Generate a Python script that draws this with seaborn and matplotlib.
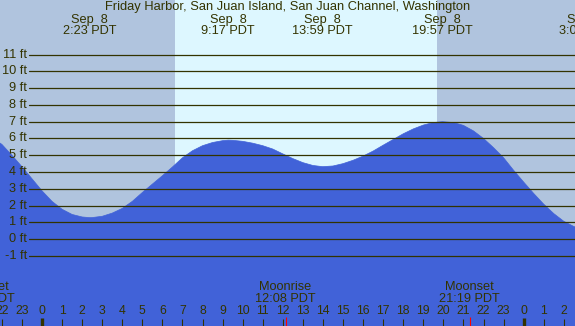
import numpy as np
import pandas as pd
import matplotlib.pyplot as plt
import seaborn as sns

sns.set_style('white')
plt.rcParams['font.family'] = ['Liberation Sans', 'DejaVu Sans']

# tide height (ft), hours after midnight Sep 8
hours = [-3, -2.5, -2, -1.5, -1, -0.5, 0, 0.5, 1, 1.5, 2, 2.38, 2.5, 3, 3.5, 4,
         4.5, 5, 5.5, 6, 6.5, 7, 7.5, 8, 8.5, 9, 9.28, 9.5, 10, 10.5, 11, 11.5,
         12, 12.5, 13, 13.5, 13.98, 14.5, 15, 15.5, 16, 16.5, 17, 17.5, 18, 18.5,
         19, 19.5, 19.95, 20.5, 21, 21.5, 22, 22.5, 23, 23.5, 24, 24.5, 25, 25.5,
         26, 26.5, 27]
heights = [6.35, 6.05, 5.65, 5.0, 4.32, 3.6, 2.88, 2.25, 1.78, 1.47, 1.32, 1.28,
           1.285, 1.36, 1.55, 1.83, 2.25, 2.78, 3.28, 3.78, 4.3, 4.85, 5.27, 5.57,
           5.76, 5.87, 5.9, 5.89, 5.83, 5.72, 5.57, 5.37, 5.08, 4.8, 4.56, 4.39,
           4.32, 4.36, 4.5, 4.7, 4.95, 5.25, 5.6, 5.94, 6.28, 6.57, 6.8, 6.95, 7.0,
           6.95, 6.78, 6.45, 6.0, 5.45, 4.85, 4.1, 3.4, 2.72, 2.08, 1.52, 1.06,
           0.75, 0.55]

# high / low labels along the top
ext_hours = [2.383, 9.283, 13.983, 19.95, 27.08]
ext_dates = ['Sep  8', 'Sep  8', 'Sep  8', 'Sep  8', 'Sep  9']
ext_times = ['2:23 PDT', '9:17 PDT', '13:59 PDT', '19:57 PDT', '3:05 PDT']

# moon events along the bottom
moon_hours = [-2.89, 12.133, 21.317]
moon_names = ['Moonset', 'Moonrise', 'Moonset']
moon_times = ['21:07 PDT', '12:08 PDT', '21:19 PDT']

sunrise, sunset = 6.63, 19.68
title = 'Friday Harbor, San Juan Island, San Juan Channel, Washington'

W, H = 575, 326
ink = '#333300'
night = '#b0c4de'
day = '#ddf7ff'
water = '#4162d8'
fs = 9.2

df = pd.DataFrame({'hour': hours, 'height': heights})

fig = plt.figure(figsize=(W / 100, H / 100), dpi=100)
ax = fig.add_axes([0, 0, 1, 1])
ax.set_facecolor(night)
ax.set_xlim(-42 / 20.07, (W - 42) / 20.07)
ax.set_ylim(-(H - 239.1) / 16.77, 239.1 / 16.77)
ax.axvspan(sunrise, sunset, color=day, lw=0)

ax.fill_between(df['hour'], df['height'], -20, color=water, lw=0)
sns.lineplot(data=df, x='hour', y='height', ax=ax, color=water, lw=0.5)

for ft in range(-1, 12):
    ax.axhline(ft, xmin=29 / W, xmax=1, color=ink, lw=0.9)
    ax.text(27 / W, ft, f'{ft} ft', transform=ax.get_yaxis_transform(),
            ha='right', va='center', fontsize=fs, color=ink)

tx = ax.get_xaxis_transform()
ax.text(0.5, 1 - 7 / H, title, transform=ax.transAxes, ha='center', va='center',
        fontsize=9.3, color=ink)
for h, d, t in zip(ext_hours, ext_dates, ext_times):
    ax.text(h, 1 - 20 / H, d, transform=tx, ha='center', va='center', fontsize=fs, color=ink)
    ax.text(h, 1 - 31.5 / H, t, transform=tx, ha='center', va='center', fontsize=fs, color=ink)

for h in range(-2, 27):
    ax.text(h, 1 - 311.5 / H, str(h % 24), transform=tx, ha='center', va='center',
            fontsize=8.8, color=ink)
    if h % 24 == 0:
        ax.vlines(h, 0, (H - 317.5) / H, transform=tx, color=ink, lw=2.4)
    else:
        ax.vlines(h, 0, (H - 318.5) / H, transform=tx, color=ink, lw=0.8)

for h, n, t in zip(moon_hours, moon_names, moon_times):
    ax.text(h, 1 - 287 / H, n, transform=tx, ha='center', va='center', fontsize=fs, color=ink)
    ax.text(h, 1 - 299.5 / H, t, transform=tx, ha='center', va='center', fontsize=fs, color=ink)
    ax.vlines(h, 0, (H - 316.5) / H, transform=tx, color='red', lw=0.8)

ax.set_xlabel('')
ax.set_ylabel('')
ax.set_xticks([])
ax.set_yticks([])
for s in ax.spines.values():
    s.set_visible(False)

fig.savefig('out.png', dpi=100)
